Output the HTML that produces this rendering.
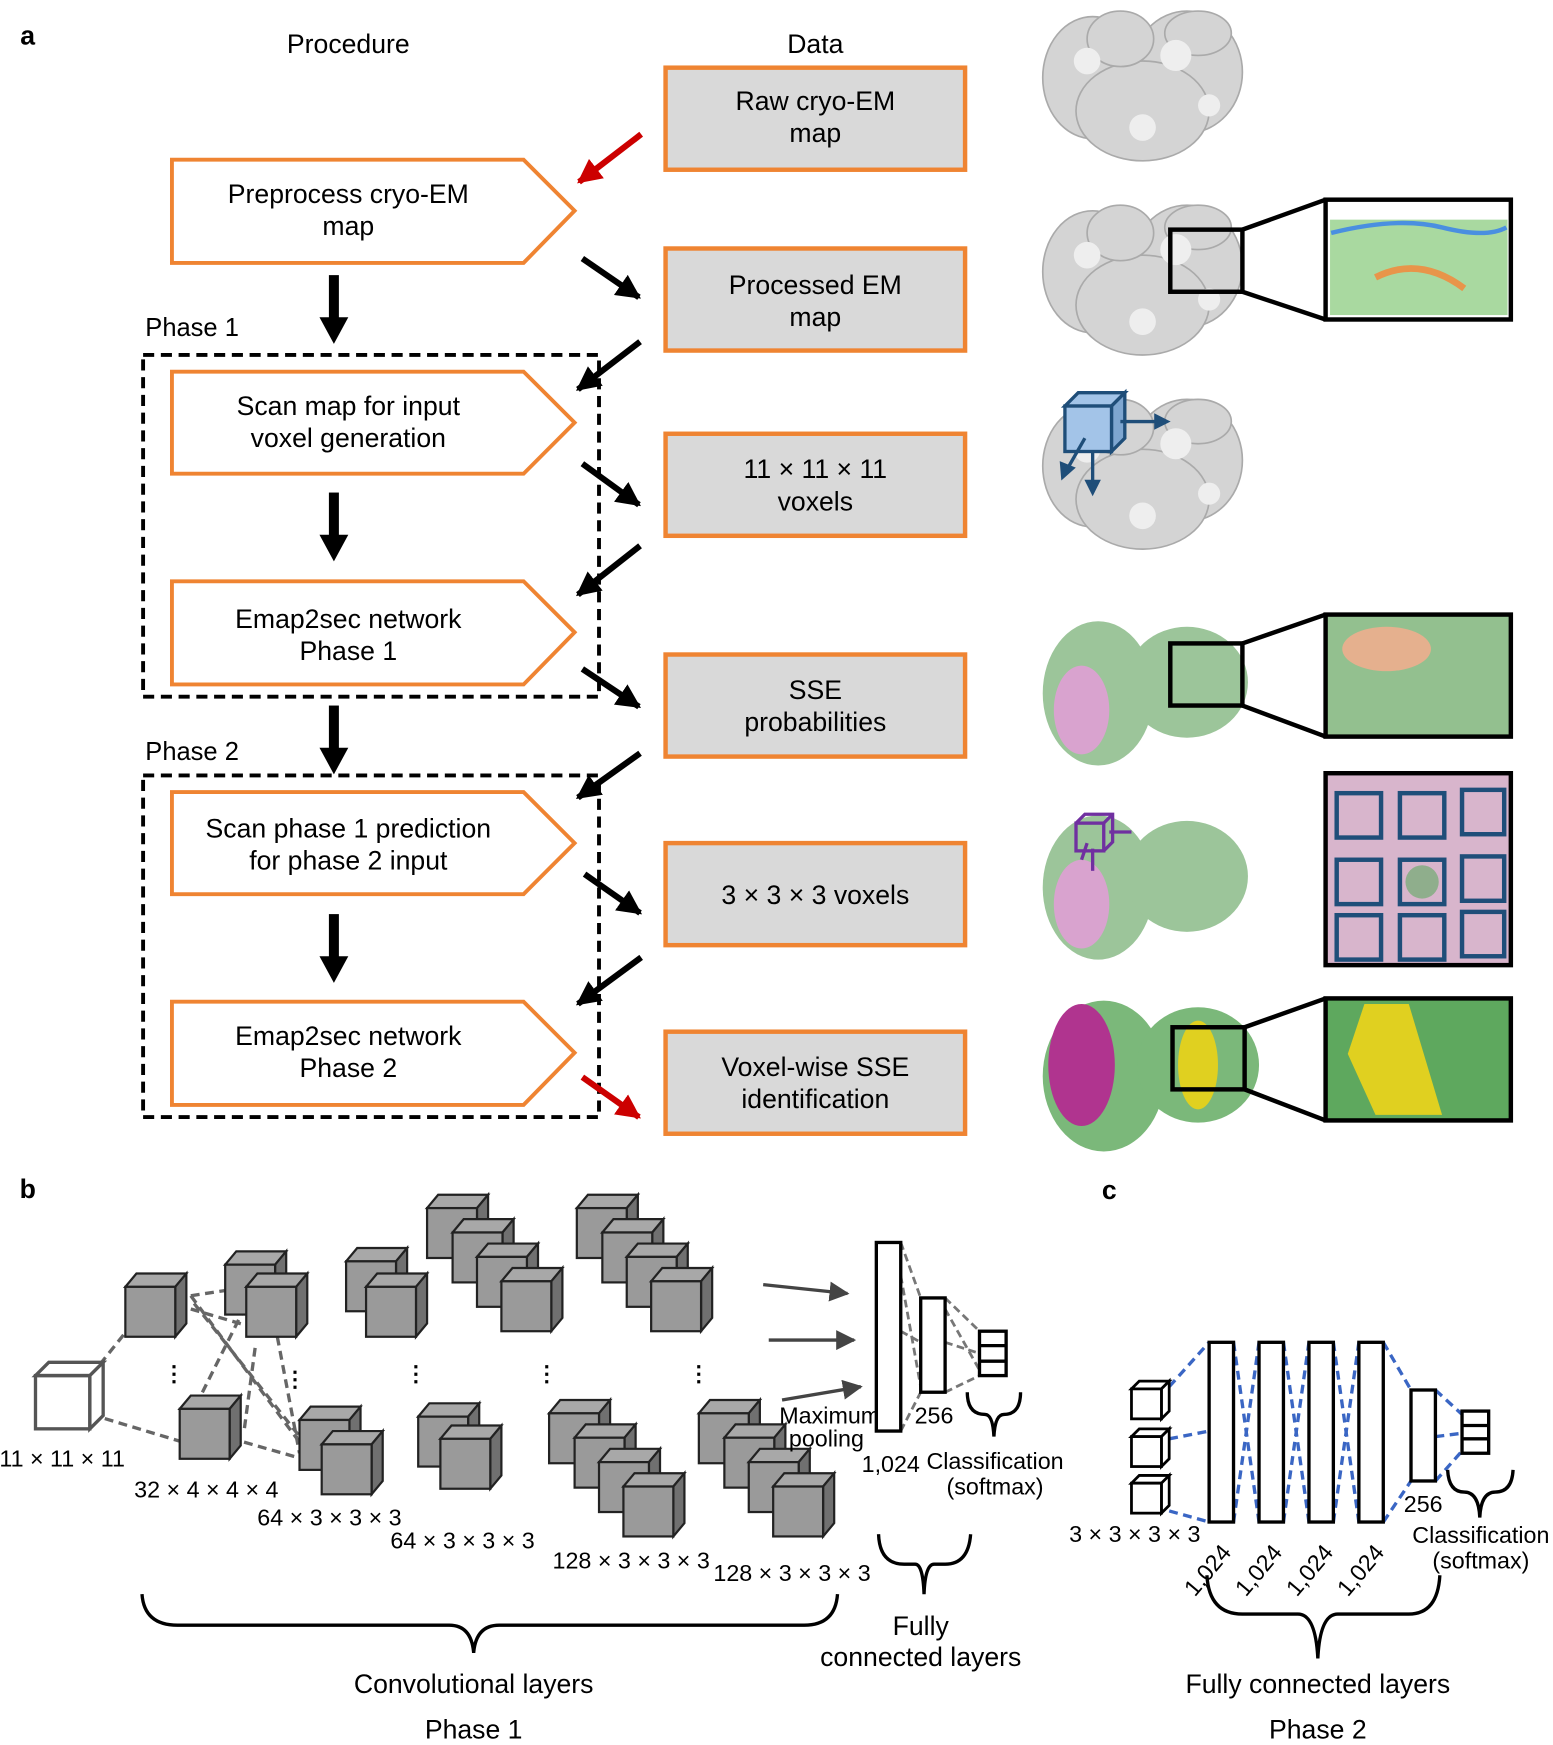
<!DOCTYPE html>
<html><head><meta charset="utf-8"><style>html,body{margin:0;padding:0;background:#fff}svg{display:block}</style></head>
<body>
<svg width="1553" height="1745" viewBox="0 0 1400 1573" preserveAspectRatio="none" xmlns="http://www.w3.org/2000/svg" font-family="Liberation Sans, sans-serif">
<defs>
<g id="cube"><polygon points="0,12 10,0 55,0 45,12" fill="#a8a8a8" stroke="#222" stroke-width="2"/><polygon points="45,12 55,0 55,45 45,57" fill="#707070" stroke="#222" stroke-width="2"/><rect x="0" y="12" width="45" height="45" fill="#9a9a9a" stroke="#222" stroke-width="2"/></g>
<g id="scube"><polygon points="0,7 7,0 34,0 27,7" fill="#fff" stroke="#000" stroke-width="2.5"/><polygon points="27,7 34,0 34,27 27,34" fill="#fff" stroke="#000" stroke-width="2.5"/><rect x="0" y="7" width="27" height="27" fill="#fff" stroke="#000" stroke-width="2.5"/></g>
<g id="blob" fill="#d4d4d4" stroke="#aaa" stroke-width="1.5">
<ellipse cx="45" cy="65" rx="45" ry="55"/><ellipse cx="130" cy="60" rx="50" ry="55"/><ellipse cx="90" cy="95" rx="60" ry="45"/><ellipse cx="70" cy="30" rx="30" ry="25"/><ellipse cx="140" cy="25" rx="30" ry="20"/>
<circle cx="40" cy="50" r="12" fill="#eee" stroke="none"/><circle cx="120" cy="45" r="14" fill="#eee" stroke="none"/><circle cx="90" cy="110" r="12" fill="#eee" stroke="none"/><circle cx="150" cy="90" r="10" fill="#eee" stroke="none"/>
</g>
<marker id="ah" viewBox="0 0 10 10" refX="9" refY="5" markerWidth="4" markerHeight="4" orient="auto"><path d="M0,0L10,5L0,10z" fill="#000"/></marker>
<marker id="ar" viewBox="0 0 10 10" refX="9" refY="5" markerWidth="4" markerHeight="4" orient="auto"><path d="M0,0L10,5L0,10z" fill="#c00"/></marker>
<marker id="ag" viewBox="0 0 10 10" refX="9" refY="5" markerWidth="6" markerHeight="6" orient="auto"><path d="M0,0L10,5L0,10z" fill="#444"/></marker>
<g id="dn"><rect x="-4.5" y="0" width="9" height="40" fill="#000"/><polygon points="-13,38 13,38 0,62" fill="#000"/></g>
</defs>

<g font-size="24" fill="#000" text-anchor="middle">
<text x="25" y="40" font-weight="bold" font-size="24">a</text>
<text x="314" y="48">Procedure</text>
<text x="735" y="48">Data</text>
</g>

<g fill="#d9d9d9" stroke="#ef8432" stroke-width="4">
<rect x="600" y="61" width="270" height="92"/><rect x="600" y="224" width="270" height="92"/><rect x="600" y="391" width="270" height="92"/><rect x="600" y="590" width="270" height="92"/><rect x="600" y="760" width="270" height="92"/><rect x="600" y="930" width="270" height="92"/>
</g>
<g font-size="24" text-anchor="middle">
<text x="735" y="99">Raw cryo-EM</text><text x="735" y="128">map</text>
<text x="735" y="265">Processed EM</text><text x="735" y="294">map</text>
<text x="735" y="431">11 × 11 × 11</text><text x="735" y="460">voxels</text>
<text x="735" y="630">SSE</text><text x="735" y="659">probabilities</text>
<text x="735" y="815">3 × 3 × 3 voxels</text>
<text x="735" y="970">Voxel-wise SSE</text><text x="735" y="999">identification</text>
</g>

<g fill="#fff" stroke="#ef8432" stroke-width="3.5">
<polygon points="155,144 472,144 518,190 472,237 155,237"/>
<polygon points="155,335 472,335 518,381 472,427 155,427"/>
<polygon points="155,524 472,524 518,570 472,617 155,617"/>
<polygon points="155,714 472,714 518,760 472,806 155,806"/>
<polygon points="155,903 472,903 518,949 472,996 155,996"/>
</g>
<g font-size="24" text-anchor="middle">
<text x="314" y="183">Preprocess cryo-EM</text><text x="314" y="212">map</text>
<text x="314" y="374">Scan map for input</text><text x="314" y="403">voxel generation</text>
<text x="314" y="566">Emap2sec network</text><text x="314" y="595">Phase 1</text>
<text x="314" y="755">Scan phase 1 prediction</text><text x="314" y="784">for phase 2 input</text>
<text x="314" y="942">Emap2sec network</text><text x="314" y="971">Phase 2</text>
</g>
<use href="#dn" x="301" y="248"/><use href="#dn" x="301" y="444"/><use href="#dn" x="301" y="636"/><use href="#dn" x="301" y="824"/>

<g font-size="23"><text x="131" y="303">Phase 1</text><text x="131" y="685">Phase 2</text></g>
<g fill="none" stroke="#000" stroke-width="3.5" stroke-dasharray="10,6">
<rect x="129" y="320" width="411" height="308"/><rect x="129" y="699" width="411" height="308"/>
</g>

<g stroke-width="5.5" fill="none">
<line x1="578" y1="121" x2="522" y2="164" stroke="#c00" marker-end="url(#ar)"/>
<line x1="525" y1="233" x2="576" y2="268" stroke="#000" marker-end="url(#ah)"/>
<line x1="577" y1="308" x2="521" y2="351" stroke="#000" marker-end="url(#ah)"/>
<line x1="525" y1="418" x2="576" y2="455" stroke="#000" marker-end="url(#ah)"/>
<line x1="577" y1="492" x2="521" y2="536" stroke="#000" marker-end="url(#ah)"/>
<line x1="525" y1="603" x2="576" y2="637" stroke="#000" marker-end="url(#ah)"/>
<line x1="577" y1="679" x2="521" y2="719" stroke="#000" marker-end="url(#ah)"/>
<line x1="527" y1="788" x2="577" y2="823" stroke="#000" marker-end="url(#ah)"/>
<line x1="578" y1="863" x2="521" y2="905" stroke="#000" marker-end="url(#ah)"/>
<line x1="525" y1="971" x2="576" y2="1007" stroke="#c00" marker-end="url(#ar)"/>
</g>

<use href="#blob" x="940" y="5"/>
<use href="#blob" x="940" y="180"/>
<use href="#blob" x="940" y="355"/>
<g stroke="#000" stroke-width="4" fill="none">
<rect x="1055" y="207" width="65" height="56"/><line x1="1120" y1="207" x2="1195" y2="180"/><line x1="1120" y1="263" x2="1195" y2="288"/>
</g>
<rect x="1195" y="180" width="167" height="108" fill="#fff" stroke="#000" stroke-width="4"/>
<rect x="1199" y="198" width="160" height="86" fill="#a9d9a0"/>
<path d="M1200,210 Q1260,195 1300,205 T1358,205" stroke="#4a8fe0" stroke-width="4" fill="none"/>
<path d="M1240,250 Q1280,230 1320,260" stroke="#e8954a" stroke-width="6" fill="none"/>
<polygon points="960,366 972,354 1014,354 1002,366" fill="#a3c4e8" stroke="#1f4e79" stroke-width="3"/>
<polygon points="1002,366 1014,354 1014,395 1002,407" fill="#7ea6d0" stroke="#1f4e79" stroke-width="3"/>
<rect x="960" y="366" width="42" height="41" fill="#a3c4e8" stroke="#1f4e79" stroke-width="3"/>
<g stroke="#1f4e79" stroke-width="3" fill="#1f4e79"><line x1="1010" y1="380" x2="1045" y2="380"/><polygon points="1052,380 1042,375 1042,385"/><line x1="978" y1="395" x2="962" y2="423"/><polygon points="958,430 957,418 967,422"/><line x1="985" y1="408" x2="985" y2="437"/><polygon points="985,444 980,434 990,434"/></g>

<g>
<ellipse cx="990" cy="625" rx="50" ry="65" fill="#9cc59a"/><ellipse cx="1070" cy="615" rx="55" ry="50" fill="#9cc59a"/><ellipse cx="975" cy="640" rx="25" ry="40" fill="#d9a3cf"/>
<ellipse cx="990" cy="800" rx="50" ry="65" fill="#9cc59a"/><ellipse cx="1070" cy="790" rx="55" ry="50" fill="#9cc59a"/><ellipse cx="975" cy="815" rx="25" ry="40" fill="#d9a3cf"/>
<ellipse cx="995" cy="970" rx="55" ry="68" fill="#7bb87a"/><ellipse cx="1080" cy="960" rx="55" ry="52" fill="#7bb87a"/><ellipse cx="975" cy="960" rx="30" ry="55" fill="#b0348f"/><ellipse cx="1080" cy="960" rx="18" ry="40" fill="#e0d020"/>
</g>
<g stroke="#000" stroke-width="4" fill="none">
<rect x="1055" y="580" width="65" height="56"/><line x1="1120" y1="580" x2="1195" y2="554"/><line x1="1120" y1="636" x2="1195" y2="664"/>
<rect x="1057" y="926" width="65" height="56"/><line x1="1122" y1="926" x2="1195" y2="900"/><line x1="1122" y1="982" x2="1195" y2="1010"/>
</g>
<rect x="1195" y="554" width="167" height="110" fill="#93c08f" stroke="#000" stroke-width="4"/>
<ellipse cx="1250" cy="585" rx="40" ry="20" fill="#e5b08e"/>
<rect x="1195" y="900" width="167" height="110" fill="#5ea85e" stroke="#000" stroke-width="4"/>
<polygon points="1230,905 1270,905 1300,1005 1240,1005 1215,950" fill="#e0d020"/>
<rect x="1195" y="697" width="167" height="173" fill="#d8b5cc" stroke="#000" stroke-width="4"/>
<g fill="none" stroke="#1f4e79" stroke-width="4">
<rect x="1205" y="715" width="40" height="40"/><rect x="1262" y="715" width="40" height="40"/><rect x="1318" y="712" width="38" height="40"/>
<rect x="1205" y="775" width="40" height="40"/><rect x="1262" y="775" width="40" height="40"/><rect x="1318" y="772" width="38" height="40"/>
<rect x="1205" y="825" width="40" height="40"/><rect x="1262" y="825" width="40" height="40"/><rect x="1318" y="822" width="38" height="40"/>
</g>
<circle cx="1282" cy="795" r="15" fill="#8fae8c"/>
<g stroke="#7030a0" stroke-width="3" fill="none"><rect x="970" y="742" width="25" height="25"/><polyline points="970,742 978,734 1003,734 1003,759 995,767"/><line x1="995" y1="742" x2="1003" y2="734"/><line x1="1000" y1="750" x2="1020" y2="750"/><line x1="985" y1="765" x2="985" y2="785"/><line x1="980" y1="760" x2="975" y2="775"/></g>

<text x="25" y="1080" font-size="24" font-weight="bold" text-anchor="middle">b</text>
<g stroke="#666" stroke-width="3" stroke-dasharray="8,5" fill="none">
<line x1="82" y1="1240" x2="118" y2="1195"/><line x1="82" y1="1275" x2="165" y2="1300"/>
<line x1="172" y1="1168" x2="225" y2="1160"/><line x1="172" y1="1168" x2="270" y2="1300"/><line x1="175" y1="1175" x2="290" y2="1320"/>
<line x1="165" y1="1290" x2="225" y2="1170"/><line x1="220" y1="1300" x2="290" y2="1320"/><line x1="172" y1="1180" x2="240" y2="1200"/><line x1="250" y1="1205" x2="270" y2="1310"/><line x1="230" y1="1215" x2="220" y2="1290"/>
</g>
<polygon points="32,1240 44,1228 93,1228 81,1240" fill="#fff" stroke="#555" stroke-width="3"/>
<polygon points="81,1240 93,1228 93,1276 81,1288" fill="#fff" stroke="#555" stroke-width="3"/>
<rect x="32" y="1240" width="49" height="48" fill="none" stroke="#555" stroke-width="3"/>
<use href="#cube" x="113" y="1148"/><use href="#cube" x="162" y="1258"/>
<use href="#cube" x="203" y="1128"/><use href="#cube" x="222" y="1148"/>
<use href="#cube" x="270" y="1268"/><use href="#cube" x="290" y="1290"/>
<use href="#cube" x="312" y="1125"/><use href="#cube" x="330" y="1148"/>
<use href="#cube" x="377" y="1265"/><use href="#cube" x="397" y="1285"/>
<use href="#cube" x="385" y="1077"/><use href="#cube" x="408" y="1099"/><use href="#cube" x="430" y="1121"/><use href="#cube" x="452" y="1143"/>
<use href="#cube" x="520" y="1077"/><use href="#cube" x="543" y="1099"/><use href="#cube" x="565" y="1121"/><use href="#cube" x="587" y="1143"/>
<use href="#cube" x="495" y="1262"/><use href="#cube" x="518" y="1284"/><use href="#cube" x="540" y="1306"/><use href="#cube" x="562" y="1328"/>
<use href="#cube" x="630" y="1262"/><use href="#cube" x="653" y="1284"/><use href="#cube" x="675" y="1306"/><use href="#cube" x="697" y="1328"/>
<g font-size="20" font-weight="bold" text-anchor="middle"><text x="157" y="1245">⋮</text><text x="266" y="1250">⋮</text><text x="375" y="1245">⋮</text><text x="493" y="1245">⋮</text><text x="630" y="1245">⋮</text></g>
<g font-size="21" text-anchor="middle">
<text x="56" y="1322">11 × 11 × 11</text>
<text x="186" y="1350">32 × 4 × 4 × 4</text>
<text x="297" y="1375">64 × 3 × 3 × 3</text>
<text x="417" y="1396">64 × 3 × 3 × 3</text>
<text x="569" y="1414">128 × 3 × 3 × 3</text>
<text x="714" y="1425">128 × 3 × 3 × 3</text>
<text x="748" y="1283">Maximum</text><text x="745" y="1304">pooling</text>
<text x="842" y="1283">256</text>
<text x="803" y="1327">1,024</text>
<text x="897" y="1324">Classification</text><text x="897" y="1347">(softmax)</text>
</g>
<g stroke="#444" stroke-width="3" fill="none">
<line x1="688" y1="1158" x2="764" y2="1166" marker-end="url(#ag)"/><line x1="693" y1="1208" x2="770" y2="1208" marker-end="url(#ag)"/><line x1="705" y1="1262" x2="776" y2="1250" marker-end="url(#ag)"/>
</g>
<g stroke="#777" stroke-width="2.5" stroke-dasharray="7,4" fill="none">
<line x1="812" y1="1120" x2="830" y2="1170"/><line x1="812" y1="1290" x2="830" y2="1255"/><line x1="812" y1="1200" x2="830" y2="1210"/><line x1="812" y1="1150" x2="830" y2="1250"/>
<line x1="852" y1="1170" x2="883" y2="1200"/><line x1="852" y1="1255" x2="883" y2="1240"/><line x1="852" y1="1210" x2="883" y2="1220"/><line x1="852" y1="1180" x2="883" y2="1235"/>
</g>
<g fill="#fff" stroke="#000" stroke-width="3">
<rect x="790" y="1120" width="22" height="170"/><rect x="830" y="1170" width="22" height="85"/>
<rect x="883" y="1200" width="24" height="40"/><line x1="883" y1="1213" x2="907" y2="1213"/><line x1="883" y1="1227" x2="907" y2="1227"/>
</g>
<g fill="none" stroke="#000" stroke-width="3">
<path d="M128,1437 Q130,1465 160,1465 L405,1465 Q425,1465 427,1490 Q429,1465 450,1465 L725,1465 Q753,1465 755,1437"/>
<path d="M792,1383 Q793,1410 815,1410 L825,1410 Q832,1410 833,1437 Q834,1410 842,1410 L852,1410 Q873,1410 875,1383"/>
<path d="M872,1255 Q872,1275 888,1275 Q895,1275 896,1295 Q897,1275 905,1275 Q920,1275 920,1255"/>
</g>
<g font-size="24" text-anchor="middle">
<text x="427" y="1526">Convolutional layers</text><text x="427" y="1567">Phase 1</text>
<text x="830" y="1474">Fully</text><text x="830" y="1502">connected layers</text>
</g>

<text x="1000" y="1081" font-size="24" font-weight="bold" text-anchor="middle">c</text>
<g stroke="#3a66c4" stroke-width="3" stroke-dasharray="8,5" fill="none">
<line x1="1054" y1="1250" x2="1090" y2="1210"/><line x1="1054" y1="1297" x2="1090" y2="1290"/><line x1="1054" y1="1362" x2="1090" y2="1372"/>
<line x1="1112" y1="1210" x2="1135" y2="1372"/><line x1="1112" y1="1372" x2="1135" y2="1210"/>
<line x1="1157" y1="1210" x2="1180" y2="1372"/><line x1="1157" y1="1372" x2="1180" y2="1210"/>
<line x1="1202" y1="1210" x2="1225" y2="1372"/><line x1="1202" y1="1372" x2="1225" y2="1210"/>
<line x1="1247" y1="1210" x2="1272" y2="1253"/><line x1="1247" y1="1372" x2="1272" y2="1335"/>
<line x1="1294" y1="1253" x2="1318" y2="1275"/><line x1="1294" y1="1335" x2="1318" y2="1308"/><line x1="1294" y1="1295" x2="1318" y2="1292"/>
</g>
<use href="#scube" x="1020" y="1245"/><use href="#scube" x="1020" y="1288"/><use href="#scube" x="1020" y="1330"/>
<g fill="#fff" stroke="#000" stroke-width="3">
<rect x="1090" y="1210" width="22" height="162"/><rect x="1135" y="1210" width="22" height="162"/><rect x="1180" y="1210" width="22" height="162"/><rect x="1225" y="1210" width="22" height="162"/>
<rect x="1272" y="1253" width="22" height="82"/>
<rect x="1318" y="1272" width="24" height="38"/><line x1="1318" y1="1285" x2="1342" y2="1285"/><line x1="1318" y1="1297" x2="1342" y2="1297"/>
</g>
<g font-size="21" text-anchor="middle">
<text x="1023" y="1390">3 × 3 × 3 × 3</text>
<text x="1283" y="1363">256</text>
<text x="1335" y="1391">Classification</text><text x="1335" y="1414">(softmax)</text>
<text transform="translate(1094,1420) rotate(-50)">1,024</text>
<text transform="translate(1140,1420) rotate(-50)">1,024</text>
<text transform="translate(1186,1420) rotate(-50)">1,024</text>
<text transform="translate(1232,1420) rotate(-50)">1,024</text>
</g>
<g fill="none" stroke="#000" stroke-width="3">
<path d="M1088,1420 Q1090,1455 1120,1455 L1170,1455 Q1186,1455 1188,1495 Q1190,1455 1206,1455 L1270,1455 Q1296,1455 1298,1420"/>
<path d="M1305,1325 Q1306,1345 1320,1345 Q1333,1345 1334,1368 Q1335,1345 1348,1345 Q1363,1345 1364,1325"/>
</g>
<g font-size="24" text-anchor="middle">
<text x="1188" y="1526">Fully connected layers</text><text x="1188" y="1567">Phase 2</text>
</g>
</svg>
</body></html>
